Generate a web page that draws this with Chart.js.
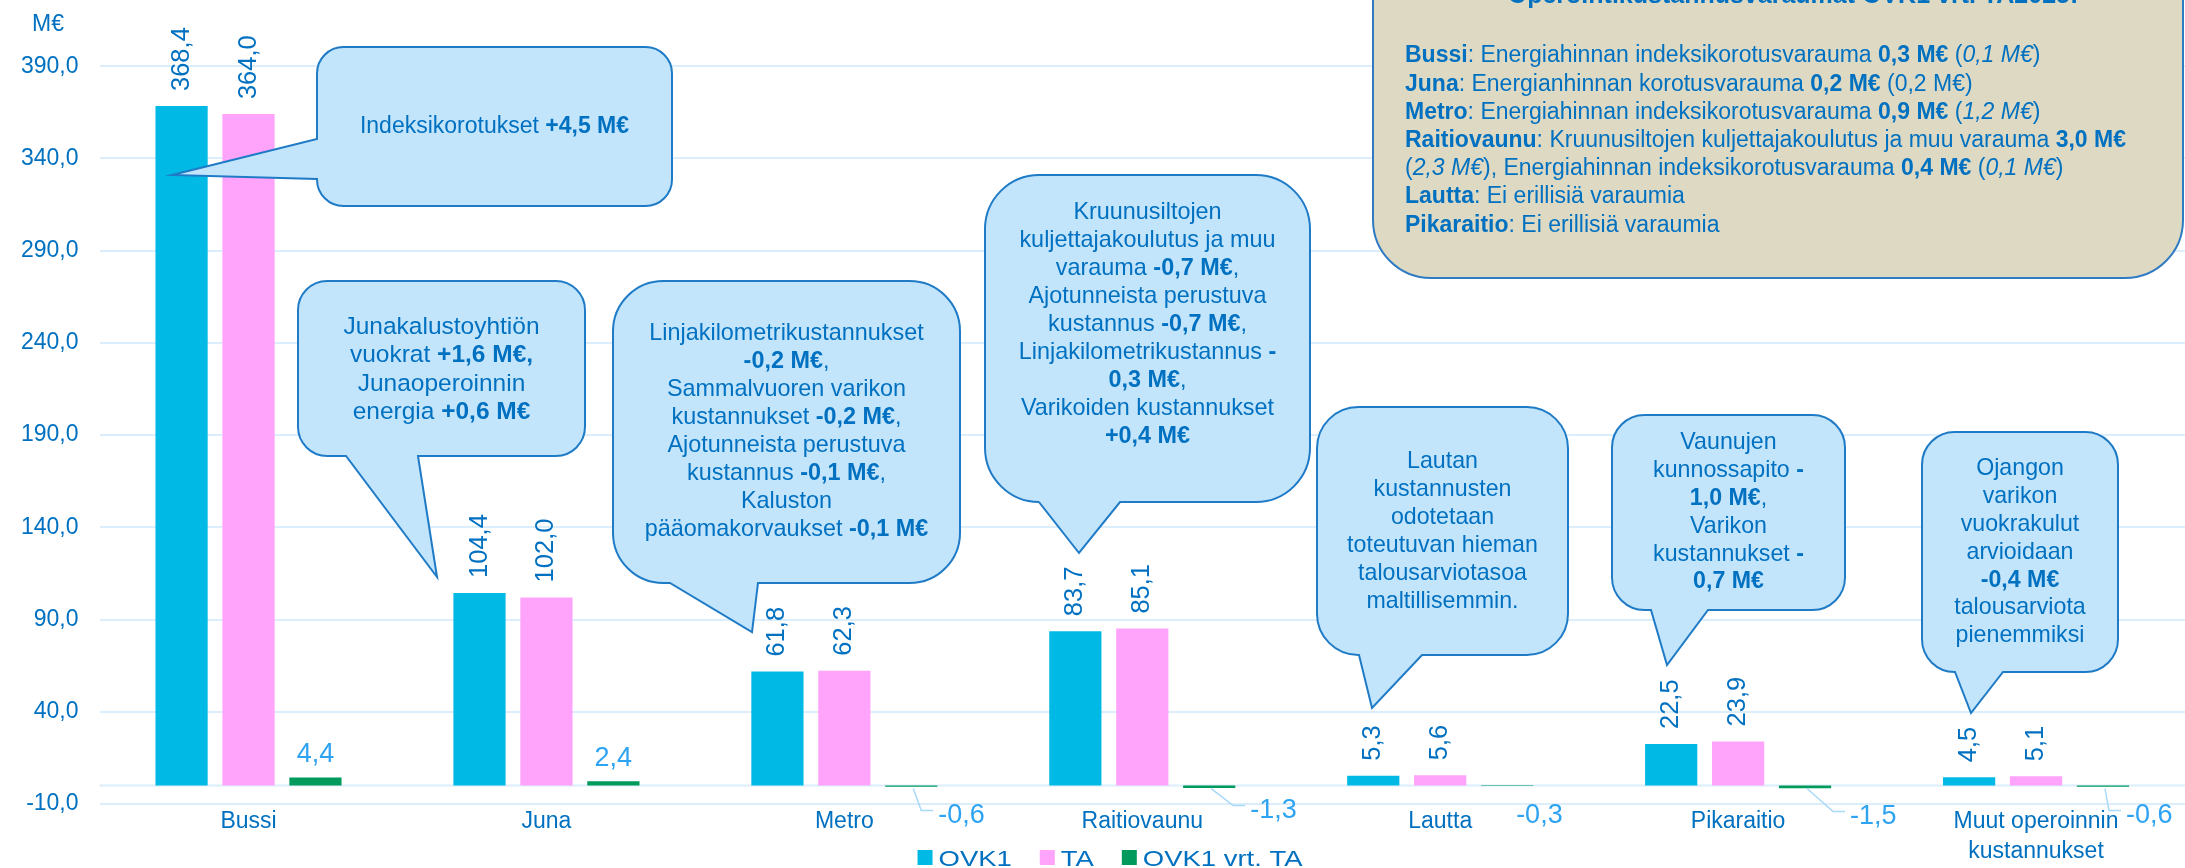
<!DOCTYPE html>
<html lang="fi">
<head>
<meta charset="UTF-8" />
<title>Operointikustannukset OVK1 vrt. TA</title>
<script src="https://cdn.jsdelivr.net/npm/chart.js"></script>
<style>
  html, body { margin: 0; padding: 0; background: #ffffff; }
  #wrap { width: 2185px; height: 868px; }
</style>
</head>
<body>
<div id="wrap"><canvas id="chart" width="2185" height="868"></canvas></div>
<script>
// chart data
const categories = ["Bussi", "Juna", "Metro", "Raitiovaunu", "Lautta", "Pikaraitio", ["Muut operoinnin", "kustannukset"]];
const seriesNames = ["OVK1", "TA", "OVK1 vrt. TA"];
const ovk1 = [368.4, 104.4, 61.8, 83.7, 5.3, 22.5, 4.5];
const ta = [364.0, 102.0, 62.3, 85.1, 5.6, 23.9, 5.1];
const diff = [4.4, 2.4, -0.6, -1.3, -0.3, -1.5, -0.6];
const yTicks = [-10, 40, 90, 140, 190, 240, 290, 340, 390];

const FONT = '"Liberation Sans", Arial, sans-serif';
const BLUE = "#0070c0";
const LIGHT = "#2ea3f2";
const GRID = "#dceefb";
const colors = ["#00b9e4", "#ffa3fb", "#009a5c"];

const fmt = v => v.toFixed(1).replace(".", ",");

// where the negative difference labels sit (relative to bar centre / zero line)
const diffLabelPos = {
  2: { dx: 27, dy: 37, leader: true },
  3: { dx: 41, dy: 32, leader: true },
  4: { dx: 9, dy: 37, leader: false },
  5: { dx: 45, dy: 38, leader: true },
  6: { dx: 23, dy: 37, leader: true }
};

// speech-bubble notes: box [x0,y0,x1,y1], pointer base and tip
const callouts = [
  { box: [317, 47, 672, 206], side: "left", base: [139, 179], tip: [172, 175], y: 127, gap: 28, size: 23,
    lines: ["Indeksikorotukset **+4,5 M€**"] },
  { box: [298, 281, 585, 456], side: "bottom", base: [346, 418], tip: [437, 577], y: 327, gap: 28.5, size: 24.5,
    lines: ["Junakalustoyhtiön", "vuokrat **+1,6 M€,**", "Junaoperoinnin", "energia **+0,6 M€**"] },
  { box: [613, 281, 960, 583], side: "bottom", base: [670, 758], tip: [752, 632], y: 334, gap: 28, size: 23.4,
    lines: ["Linjakilometrikustannukset", "**-0,2 M€**,", "Sammalvuoren varikon", "kustannukset **-0,2 M€**,",
            "Ajotunneista perustuva", "kustannus **-0,1 M€**,", "Kaluston", "pääomakorvaukset **-0,1 M€**"] },
  { box: [985, 175, 1310, 502], side: "bottom", base: [1039, 1120], tip: [1079, 553], y: 213, gap: 28, size: 23.4,
    lines: ["Kruunusiltojen", "kuljettajakoulutus ja muu", "varauma **-0,7 M€**,", "Ajotunneista perustuva",
            "kustannus **-0,7 M€**,", "Linjakilometrikustannus **-**", "**0,3 M€**,", "Varikoiden kustannukset", "**+0,4 M€**"] },
  { box: [1317, 407, 1568, 655], side: "bottom", base: [1359, 1422], tip: [1372, 708], y: 462, gap: 28, size: 23.2,
    lines: ["Lautan", "kustannusten", "odotetaan", "toteutuvan hieman", "talousarviotasoa", "maltillisemmin."] },
  { box: [1612, 415, 1845, 610], side: "bottom", base: [1651, 1708], tip: [1667, 665], y: 443, gap: 27.8, size: 23.2,
    lines: ["Vaunujen", "kunnossapito **-**", "**1,0 M€**,", "Varikon", "kustannukset **-**", "**0,7 M€**"] },
  { box: [1922, 432, 2118, 672], side: "bottom", base: [1955, 2003], tip: [1971, 713], y: 469, gap: 27.8, size: 23.2,
    lines: ["Ojangon", "varikon", "vuokrakulut", "arvioidaan", "**-0,4 M€**", "talousarviota", "pienemmiksi"] }
];

const noteTitle = "Operointikustannusvaraumat OVK1 vrt. TA2025:";
const noteLines = [
  "**Bussi**: Energiahinnan indeksikorotusvarauma **0,3 M€** (_0,1 M€_)",
  "**Juna**: Energianhinnan korotusvarauma **0,2 M€** (0,2 M€)",
  "**Metro**: Energiahinnan indeksikorotusvarauma **0,9 M€** (_1,2 M€_)",
  "**Raitiovaunu**: Kruunusiltojen kuljettajakoulutus ja muu varauma **3,0 M€**",
  "(_2,3 M€_), Energiahinnan indeksikorotusvarauma **0,4 M€** (_0,1 M€_)",
  "**Lautta**: Ei erillisiä varaumia",
  "**Pikaraitio**: Ei erillisiä varaumia"
];

// split "**bold**" and "_italic_" runs
function parseRuns(s) {
  const runs = [];
  const re = /(\*\*[^*]+\*\*|_[^_]+_)/g;
  let last = 0, m;
  while ((m = re.exec(s))) {
    if (m.index > last) runs.push({ t: s.slice(last, m.index), w: "" });
    if (m[0].startsWith("**")) runs.push({ t: m[0].slice(2, -2), w: "bold " });
    else runs.push({ t: m[0].slice(1, -1), w: "italic " });
    last = re.lastIndex;
  }
  if (last < s.length) runs.push({ t: s.slice(last), w: "" });
  return runs;
}

function drawRich(ctx, s, x, y, size, align) {
  const runs = parseRuns(s);
  let total = 0;
  runs.forEach(r => {
    ctx.font = r.w + size + "px " + FONT;
    r.width = ctx.measureText(r.t).width;
    total += r.width;
  });
  let cx = align === "center" ? x - total / 2 : x;
  ctx.textAlign = "left";
  runs.forEach(r => {
    ctx.font = r.w + size + "px " + FONT;
    ctx.fillText(r.t, cx, y);
    cx += r.width;
  });
}

function bubblePath(ctx, c) {
  const [x0, y0, x1, y1] = c.box;
  const r = Math.min(x1 - x0, y1 - y0) / 6;
  ctx.beginPath();
  ctx.moveTo(x0 + r, y0);
  ctx.lineTo(x1 - r, y0);
  ctx.arcTo(x1, y0, x1, y0 + r, r);
  ctx.lineTo(x1, y1 - r);
  ctx.arcTo(x1, y1, x1 - r, y1, r);
  if (c.side === "bottom") {
    ctx.lineTo(c.base[1], y1);
    ctx.lineTo(c.tip[0], c.tip[1]);
    ctx.lineTo(c.base[0], y1);
  }
  ctx.lineTo(x0 + r, y1);
  ctx.arcTo(x0, y1, x0, y1 - r, r);
  if (c.side === "left") {
    ctx.lineTo(x0, c.base[1]);
    ctx.lineTo(c.tip[0], c.tip[1]);
    ctx.lineTo(x0, c.base[0]);
  }
  ctx.lineTo(x0, y0 + r);
  ctx.arcTo(x0, y0, x0 + r, y0, r);
  ctx.closePath();
}

const overlay = {
  id: "overlay",
  beforeDatasetsDraw(chart) {
    // zero line
    const { ctx, chartArea } = chart;
    const y0 = chart.scales.y.getPixelForValue(0);
    ctx.save();
    ctx.strokeStyle = GRID;
    ctx.lineWidth = 2;
    ctx.beginPath();
    ctx.moveTo(chartArea.left, y0);
    ctx.lineTo(chartArea.right, y0);
    ctx.stroke();
    ctx.restore();
  },
  afterDatasetsDraw(chart) {
    const { ctx } = chart;
    const zeroY = chart.scales.y.getPixelForValue(0);
    ctx.save();
    // rotated value labels for OVK1 and TA
    [0, 1].forEach(i => {
      chart.getDatasetMeta(i).data.forEach((el, j) => {
        ctx.save();
        ctx.translate(el.x, el.y - 15);
        ctx.rotate(-Math.PI / 2);
        ctx.font = "25.5px " + FONT;
        ctx.fillStyle = BLUE;
        ctx.textAlign = "left";
        ctx.textBaseline = "middle";
        ctx.fillText(fmt(chart.data.datasets[i].data[j]), 0, 0);
        ctx.restore();
      });
    });
    // difference labels
    chart.getDatasetMeta(2).data.forEach((el, j) => {
      const v = diff[j];
      ctx.font = "27px " + FONT;
      ctx.fillStyle = LIGHT;
      ctx.textBaseline = "alphabetic";
      if (v >= 0) {
        ctx.textAlign = "center";
        ctx.fillText(fmt(v), el.x, el.y - 15);
      } else {
        const p = diffLabelPos[j];
        const lx = el.x + p.dx, ly = zeroY + p.dy;
        ctx.textAlign = "left";
        ctx.fillText(fmt(v), lx, ly);
        if (p.leader) {
          ctx.strokeStyle = "#a7d9f8";
          ctx.lineWidth = 1.5;
          ctx.beginPath();
          ctx.moveTo(el.x + 2, zeroY + 3);
          ctx.lineTo(lx - 17, ly - 12);
          ctx.lineTo(lx - 5, ly - 12);
          ctx.stroke();
        }
      }
    });
    ctx.restore();
  },
  afterDraw(chart) {
    const { ctx } = chart;
    ctx.save();

    // beige note box, top cut off by the canvas edge
    const note = { box: [1373, -70, 2183, 278], side: "none" };
    bubblePath(ctx, note);
    ctx.fillStyle = "#ddd9c3";
    ctx.fill();
    ctx.strokeStyle = "#2e7bc4";
    ctx.lineWidth = 2;
    ctx.stroke();
    ctx.fillStyle = BLUE;
    ctx.textBaseline = "alphabetic";
    drawRich(ctx, "**" + noteTitle + "**", 1793, 3, 25, "center");
    ctx.textBaseline = "middle";
    noteLines.forEach((l, i) => drawRich(ctx, l, 1405, 56 + i * 28.2, 23, "left"));

    // speech bubbles
    callouts.forEach(c => {
      bubblePath(ctx, c);
      ctx.fillStyle = "#c3e5fc";
      ctx.fill();
      ctx.strokeStyle = "#1f7bc6";
      ctx.lineWidth = 2;
      ctx.stroke();
      ctx.fillStyle = BLUE;
      ctx.textBaseline = "middle";
      const cx = (c.box[0] + c.box[2]) / 2;
      c.lines.forEach((l, i) => drawRich(ctx, l, cx, c.y + i * c.gap, c.size, "center"));
    });

    // unit label
    ctx.font = "23px " + FONT;
    ctx.fillStyle = BLUE;
    ctx.textAlign = "center";
    ctx.textBaseline = "middle";
    ctx.fillText("M€", 48, 25);

    // legend (text slightly stretched like the original)
    const stretch = 1.22, size = 22.5, box = 15, gapIn = 6, gapOut = 28;
    ctx.font = size + "px " + FONT;
    const items = chart.data.datasets.map(d => ({
      label: d.label, color: d.backgroundColor,
      w: ctx.measureText(d.label).width * stretch
    }));
    const total = items.reduce((s, it) => s + box + gapIn + it.w, 0) + gapOut * (items.length - 1);
    let x = 1110 - total / 2;
    items.forEach(it => {
      ctx.fillStyle = it.color;
      ctx.fillRect(x, 850, box, box);
      x += box + gapIn;
      ctx.save();
      ctx.translate(x, 866);
      ctx.scale(stretch, 1);
      ctx.fillStyle = BLUE;
      ctx.textAlign = "left";
      ctx.textBaseline = "alphabetic";
      ctx.fillText(it.label, 0, 0);
      ctx.restore();
      x += it.w + gapOut;
    });
    ctx.restore();
  }
};

new Chart(document.getElementById("chart"), {
  type: "bar",
  data: {
    labels: categories,
    datasets: [
      { label: seriesNames[0], data: ovk1, backgroundColor: colors[0] },
      { label: seriesNames[1], data: ta, backgroundColor: colors[1] },
      { label: seriesNames[2], data: diff, backgroundColor: colors[2] }
    ]
  },
  options: {
    responsive: false,
    animation: false,
    datasets: { bar: { categoryPercentage: 0.674, barPercentage: 0.78 } },
    layout: { padding: { top: 10, left: 0, right: 0, bottom: 2 } },
    plugins: { legend: { display: false }, tooltip: { enabled: false } },
    scales: {
      x: {
        grid: { display: false },
        border: { display: false },
        ticks: {
          color: BLUE, padding: -5, maxRotation: 0, autoSkip: false,
          font: { family: FONT, size: 23, lineHeight: 1.3 }
        },
        afterFit: s => { s.height = 62; }
      },
      y: {
        min: -10,
        max: 407,
        afterBuildTicks: s => { s.ticks = yTicks.map(v => ({ value: v })); },
        grid: { color: GRID, lineWidth: 2, drawTicks: false },
        border: { display: false },
        ticks: {
          color: BLUE, padding: 21,
          font: { family: FONT, size: 23 },
          callback: v => fmt(v)
        }
      }
    }
  },
  plugins: [overlay]
});
</script>
</body>
</html>
